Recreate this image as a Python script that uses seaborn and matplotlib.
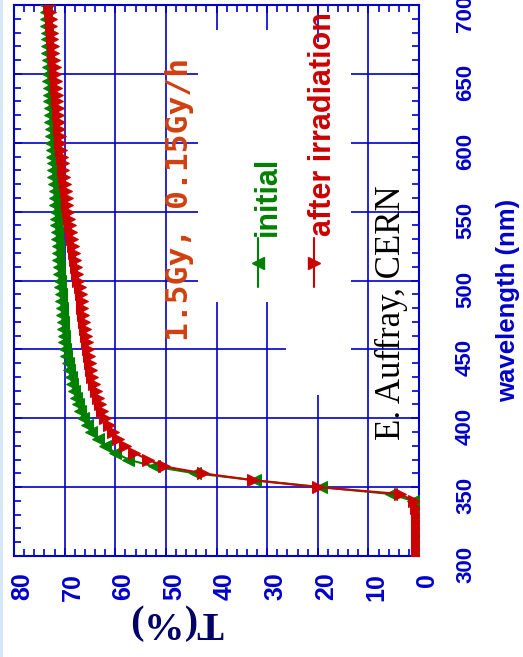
import matplotlib
matplotlib.use("Agg")
import matplotlib.pyplot as plt
from matplotlib import font_manager
from matplotlib.patches import Rectangle
from matplotlib.ticker import MultipleLocator
from matplotlib.transforms import ScaledTranslation
import pandas as pd
import seaborn as sns

# Transmission spectra of a crystal before and after irradiation
wavelength = [300, 305, 310, 315, 320, 325, 330, 335, 340, 345,
              350, 355, 360, 365, 370, 375, 380, 385, 390, 395,
              400, 405, 410, 415, 420, 425, 430, 435, 440, 445,
              450, 455, 460, 465, 470, 475, 480, 485, 490, 495,
              500, 505, 510, 515, 520, 525, 530, 535, 540, 545,
              550, 555, 560, 565, 570, 575, 580, 585, 590, 595,
              600, 605, 610, 615, 620, 625, 630, 635, 640, 645,
              650, 655, 660, 665, 670, 675, 680, 685, 690, 695,
              700]

t_initial = [0.2, 0.2, 0.2, 0.2, 0.2, 0.2, 0.3, 0.4, 1.2, 5.6,
             19.3, 32.4, 44.2, 52.4, 57.4, 60.0, 62.0, 63.5, 64.7, 65.6,
             66.3, 66.9, 67.4, 67.8, 68.2, 68.5, 68.8, 69.1, 69.4, 69.7,
             69.9, 70.1, 70.2, 70.3, 70.4, 70.5, 70.6, 70.7, 70.8, 70.9,
             71.0, 71.1, 71.2, 71.3, 71.4, 71.4, 71.5, 71.6, 71.7, 71.7,
             71.8, 71.9, 72.0, 72.0, 72.1, 72.2, 72.3, 72.3, 72.4, 72.5,
             72.6, 72.6, 72.7, 72.8, 72.8, 72.9, 73.0, 73.0, 73.1, 73.2,
             73.2, 73.3, 73.3, 73.4, 73.4, 73.5, 73.5, 73.6, 73.6, 73.7,
             73.7]

t_irradiated = [0.3, 0.3, 0.3, 0.3, 0.3, 0.3, 0.3, 0.5, 1.0, 3.7,
                20.0, 32.8, 42.6, 50.3, 53.6, 56.3, 58.1, 59.4, 60.5, 61.3,
                62.0, 62.6, 63.1, 63.5, 63.9, 64.2, 64.5, 64.8, 65.0, 65.2,
                65.4, 65.6, 65.8, 66.0, 66.2, 66.3, 66.5, 66.6, 66.8, 67.0,
                67.3, 67.5, 67.7, 67.9, 68.1, 68.3, 68.5, 68.7, 68.9, 69.1,
                69.3, 69.5, 69.6, 69.8, 70.0, 70.1, 70.3, 70.4, 70.6, 70.7,
                70.9, 71.0, 71.1, 71.2, 71.3, 71.4, 71.5, 71.6, 71.7, 71.8,
                71.9, 72.0, 72.1, 72.2, 72.3, 72.4, 72.5, 72.6, 72.7, 72.8,
                73.0]

t_ticks = [0, 10, 20, 30, 40, 50, 60, 70, 80]
wl_ticks = [300, 350, 400, 450, 500, 550, 600, 650, 700]

series_labels = ["initial", "after irradiation"]
dose_label = "1.5Gy, 0.15Gy/h"
credit_label = "E. Auffray, CERN"

BLUE = "#0000cc"
GREEN = "#008000"
RED = "#cc0000"
ORANGE = "#d04010"

sns.set_theme(style="white")
installed = {f.name for f in font_manager.fontManager.ttflist}
NARROW = "Liberation Sans Narrow" if "Liberation Sans Narrow" in installed else "Liberation Sans"
plt.rcParams["font.family"] = ["Liberation Sans", "DejaVu Sans"]

fig = plt.figure(figsize=(5.23, 6.57), dpi=100)
fig.patch.set_facecolor("white")
ax = fig.add_axes([14 / 523, 1 - 556 / 657, (419 - 14) / 523, (556 - 5) / 657])
ax.set_facecolor("white")

# thin slide-coloured strip along the left edge
fig.patches.append(Rectangle((0, 0), 3 / 523, 1, transform=fig.transFigure,
                             facecolor="#d6e8f8", edgecolor="none", zorder=0))

df_init = pd.DataFrame({"T": t_initial, "wl": wavelength})
df_irr = pd.DataFrame({"T": t_irradiated, "wl": wavelength})

sns.lineplot(data=df_init, x="T", y="wl", orient="y", sort=False, ax=ax,
             color=GREEN, lw=1.5, marker="<", markersize=8.5,
             markeredgecolor=GREEN, markerfacecolor=GREEN, zorder=4)
sns.lineplot(data=df_irr, x="T", y="wl", orient="y", sort=False, ax=ax,
             color=RED, lw=1.5, marker=">", markersize=8.5,
             markeredgecolor=RED, markerfacecolor=RED, zorder=5)

ax.set_xlim(80, 0)
ax.set_ylim(300, 700)
ax.set_xticks(t_ticks)
ax.set_yticks(wl_ticks)
ax.xaxis.set_minor_locator(MultipleLocator(2))
ax.yaxis.set_minor_locator(MultipleLocator(10))
ax.grid(True, which="major", color=BLUE, lw=1.2, zorder=1)
ax.set_axisbelow(True)

ax.tick_params(which="both", direction="in", colors=BLUE, top=True, bottom=True,
               left=True, right=True, labelleft=False, labelright=True)
ax.tick_params(which="major", length=6, width=1.2)
ax.tick_params(which="minor", length=5, width=1.2)
ax.tick_params(axis="x", labelrotation=90, pad=12)
ax.tick_params(axis="y", labelrotation=90, pad=26)

shift_x = ScaledTranslation(8 / 100, 0, fig.dpi_scale_trans)
shift_y = ScaledTranslation(0, 2 / 100, fig.dpi_scale_trans)
for lab in ax.get_xticklabels():
    lab.set_fontfamily([NARROW, "DejaVu Sans"])
    lab.set_fontweight("bold")
    lab.set_fontsize(18)
    lab.set_color(BLUE)
    lab.set_transform(lab.get_transform() + shift_x)
for lab in ax.get_yticklabels():
    lab.set_fontfamily([NARROW, "DejaVu Sans"])
    lab.set_fontweight("bold")
    lab.set_fontsize(16)
    lab.set_color(BLUE)
    lab.set_transform(lab.get_transform() + shift_y)

for sp in ax.spines.values():
    sp.set_color(BLUE)
    sp.set_linewidth(1.5)

ax.set_xlabel("")
ax.set_ylabel("")

# white panels behind the annotations
ax.add_patch(Rectangle(((419 - 147) / 405, 1 - 390 / 551), 65 / 405, (390 - 37) / 551,
                       transform=ax.transAxes, facecolor="white", edgecolor="none", zorder=2))
ax.add_patch(Rectangle(((419 - 235) / 405, 1 - 297 / 551), 105 / 405, (297 - 25) / 551,
                       transform=ax.transAxes, facecolor="white", edgecolor="none", zorder=2))

def fx(px):
    return px / 523

def fy(py):
    return 1 - py / 657

fig.text(fx(194), fy(341), dose_label, rotation=90, ha="right", va="bottom",
         family=["DejaVu Sans Mono"], fontweight="bold", fontsize=22.5, color=ORANGE, zorder=6)

# legend drawn as vertical entries
leg_x = [258, 314]
leg_colors = [GREEN, RED]
leg_markers = ["<", ">"]
for lx, col, mk in zip(leg_x, leg_colors, leg_markers):
    fig.add_artist(plt.Line2D([fx(lx), fx(lx)], [fy(287), fy(238)], color=col, lw=1.5,
                              transform=fig.transFigure, zorder=6))
    fig.add_artist(plt.Line2D([fx(lx)], [fy(263)], color=col, marker=mk, markersize=8,
                              markerfacecolor=col, markeredgecolor=col,
                              transform=fig.transFigure, zorder=6))
fig.text(fx(283), fy(236), series_labels[0], rotation=90, ha="right", va="bottom",
         family=[NARROW, "DejaVu Sans"], fontweight="bold", fontsize=22, color=GREEN, zorder=6)
fig.text(fx(338), fy(236), series_labels[1], rotation=90, ha="right", va="bottom",
         family=[NARROW, "DejaVu Sans"], fontweight="bold", fontsize=22, color=RED, zorder=6)

fig.text(fx(408), fy(440), credit_label, rotation=90, ha="right", va="bottom",
         family=["Liberation Serif", "DejaVu Serif"], fontsize=25, color="black", zorder=6)

fig.text(fx(520), fy(402), "wavelength (nm)", rotation=90, ha="right", va="bottom",
         family=[NARROW, "DejaVu Sans"], fontweight="bold", fontsize=18.5, color=BLUE)

fig.text(fx(176), fy(621), "T(%)", rotation=180, ha="center", va="center",
         family=["Liberation Serif", "DejaVu Serif"], fontweight="bold", fontsize=29,
         color="#000066")

fig.savefig("out.png", dpi=100, facecolor="white")
